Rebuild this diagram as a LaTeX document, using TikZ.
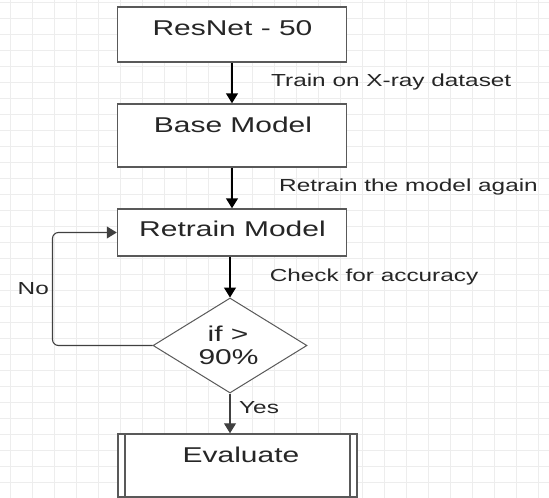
\documentclass[tikz,border=0pt]{standalone}
\usepackage{fontspec}
\setmainfont{Liberation Sans}[FakeStretch=1.4]
\usetikzlibrary{shapes.geometric,arrows.meta}
\begin{document}
\begin{tikzpicture}[x=1pt,y=-1pt,
  gridline/.style={draw=black!7, line width=0.8pt},
  box/.style={draw=black!65, line width=1.5pt, fill=white, rectangle, inner sep=0pt, minimum width=229pt},
  boxtext/.style={anchor=base, inner sep=0pt, text=black!85, font=\fontsize{21.4}{24}\selectfont},
  lbl/.style={anchor=base west, inner sep=0pt, text=black!85, font=\fontsize{17.4}{20}\selectfont},
  arrow/.style={draw=black, line width=1.5pt, -{Triangle[width=12pt,length=10pt]}},
  loopline/.style={draw=black!75, line width=1.1pt, rounded corners=6pt, -{Triangle[width=12pt,length=10pt]}},
  decision/.style={diamond, draw=black!65, line width=1pt, fill=white, inner sep=0pt, minimum width=154pt, minimum height=95pt},
]
\fill[white] (0,0) rectangle (549,498);
\useasboundingbox (0,0) rectangle (549,498);
\foreach \i in {0,...,24} \draw[gridline] ({10+22*\i},0) -- ++(0,498);
\foreach \j in {0,...,31} \draw[gridline] (0,{2.7+16*\j}) -- ++(549,0);

% boxes
\node[box, minimum height=55pt] (r1) at (232,34.5) {};
\node[box, minimum height=63pt] (r2) at (232,135.5) {};
\node[box, minimum height=47pt] (r3) at (232,232.5) {};
\node[decision] (d) at (230,345.5) {};
\node[box, minimum width=239pt, minimum height=63pt] (ev) at (237.5,465.5) {};
\draw[draw=black!65, line width=1.5pt] (125,434) -- (125,497) (350,434) -- (350,497);

% box texts
\node[boxtext] (t1) at (232.5,35.7) {ResNet - 50};
\node[boxtext] (t2) at (233,132.3) {Base Model};
\node[boxtext] (t3) at (232.5,236.7) {Retrain Model};
\node[boxtext] (t4a) at (228,341) {if >};
\node[boxtext] (t4b) at (228.5,364.3) {90\%};
\node[boxtext] (t5) at (241,462.3) {Evaluate};

% connectors
\draw[arrow] (r1.south) -- (r2.north);
\draw[arrow] (r2.south) -- (r3.north);
\draw[arrow] (d.north |- r3.south) -- (d.north);
\draw[arrow, draw=black!75, line width=1.2pt] (d.south) -- (d.south |- ev.north);
\coordinate (lx) at (52.5,0);
\draw[loopline] (d.west) -- (d.west -| lx) -- (r3.west -| lx) -- (r3.west);

% labels
\node[lbl] (l1) at (271,86) {Train on X-ray dataset};
\node[lbl] (l2) at (279,191) {Retrain the model again};
\node[lbl] (l3) at (269.6,281) {Check for accuracy};
\node[lbl] (l4) at (17.5,294.3) {No};
\node[lbl] (l5) at (239,413.3) {Yes};
\end{tikzpicture}
\end{document}
